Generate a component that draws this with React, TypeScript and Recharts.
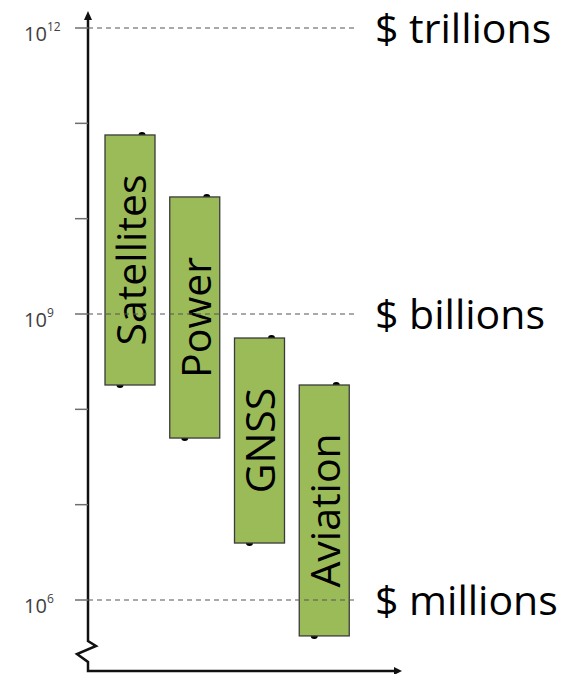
import { ComposedChart, Bar, XAxis, YAxis, ReferenceLine } from "recharts";

// market size ranges
const categories = ["Satellites", "Power", "GNSS", "Aviation"];
const lowValues = [1.8e8, 5.0e7, 3.96e6, 4.2e5];
const highValues = [7.55e10, 1.69e10, 5.6e8, 1.8e8];

const yTicks = [1e6, 1e7, 1e8, 1e9, 1e10, 1e11, 1e12];
const labelledExponents = [6, 9, 12];
const scaleLines = [
  { value: 1e12, label: "$ trillions" },
  { value: 1e9, label: "$ billions" },
  { value: 1e6, label: "$ millions" },
];

const data = categories.map((name, i) => ({
  name,
  range: [lowValues[i], highValues[i]],
}));

const WIDTH = 566;
const HEIGHT = 674;
const MARGIN = { top: 12, right: 209, bottom: 3, left: 0 };
const Y_AXIS_WIDTH = 88;
const FONT = "'Open Sans', sans-serif";

function YTick({ x, y, payload }: any) {
  const exp = Math.round(Math.log10(payload.value));
  if (!labelledExponents.includes(exp)) return null;
  return (
    <text x={x - 49} y={y + 13} fill="#404040" fontSize={20} fontFamily={FONT} textAnchor="start">
      10
      <tspan fontSize={12} dy={-10}>
        {exp}
      </tspan>
    </text>
  );
}

function RangeBar(props: any) {
  const { x, y, width, height, payload } = props;
  const cx = x + width / 2;
  const cy = y + height / 2;
  return (
    <g>
      <ellipse cx={x + width * 0.74} cy={y} rx={3.5} ry={3} fill="#000" />
      <ellipse cx={x + width * 0.3} cy={y + height} rx={3.5} ry={3} fill="#000" />
      <rect x={x} y={y} width={width} height={height} fill="#9BBB59" stroke="#3a3a3a" strokeWidth={1.3} />
      <text
        x={cx}
        y={cy}
        transform={`rotate(-90 ${cx} ${cy})`}
        textAnchor="middle"
        dominantBaseline="central"
        fontSize={41}
        fontFamily={FONT}
        fill="#000"
      >
        {payload.name}
      </text>
    </g>
  );
}

// axis lines with arrows and the broken-axis zigzag
function AxesDecor() {
  const left = MARGIN.left + Y_AXIS_WIDTH;
  const bottom = HEIGHT - MARGIN.bottom;
  const top = MARGIN.top;
  const xEnd = 402;
  const path = [
    `M ${left} ${top + 6}`,
    `L ${left} ${bottom - 30}`,
    `L ${left + 8} ${bottom - 25}`,
    `L ${left - 11} ${bottom - 17}`,
    `L ${left} ${bottom - 9}`,
    `L ${left} ${bottom}`,
    `L ${xEnd - 6} ${bottom}`,
  ].join(" ");
  return (
    <g>
      <path d={path} fill="none" stroke="#111" strokeWidth={2.5} strokeLinejoin="miter" />
      <path d={`M ${left} ${top - 1} L ${left - 4} ${top + 8} L ${left + 4} ${top + 8} Z`} fill="#111" />
      <path d={`M ${xEnd} ${bottom} L ${xEnd - 8} ${bottom - 4} L ${xEnd - 8} ${bottom + 4} Z`} fill="#111" />
    </g>
  );
}

export default function App() {
  return (
    <div style={{ position: "fixed", left: 0, top: 0, width: WIDTH, height: HEIGHT, background: "#fff" }}>
      <ComposedChart width={WIDTH} height={HEIGHT} data={data} margin={MARGIN}>
        <XAxis dataKey="name" type="category" hide padding={{ left: 10, right: 0 }} />
        <YAxis
          scale="log"
          type="number"
          domain={[1.8e5, 1.472e12]}
          allowDataOverflow
          ticks={yTicks}
          width={Y_AXIS_WIDTH}
          axisLine={false}
          tickSize={13}
          tickLine={{ stroke: "#6e6e6e", strokeWidth: 1.5 }}
          tick={<YTick />}
          interval={0}
        />
        <Bar dataKey="range" barSize={50} shape={<RangeBar />} isAnimationActive={false} />
        {scaleLines.map((s) => (
          <ReferenceLine
            key={s.label}
            y={s.value}
            stroke="#555"
            strokeWidth={1.2}
            strokeDasharray="5 4"
            label={{
              value: s.label,
              position: "right",
              offset: 18,
              fill: "#000",
              fontSize: 41,
              fontFamily: FONT,
            }}
          />
        ))}
        <AxesDecor />
      </ComposedChart>
    </div>
  );
}
